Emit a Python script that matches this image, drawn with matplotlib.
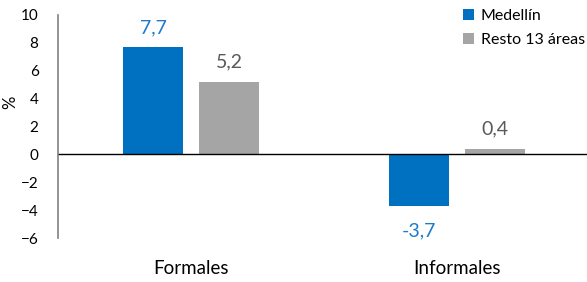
import numpy as np
import matplotlib.pyplot as plt

categories = ["Formales", "Informales"]
series_names = ["Medellín", "Resto 13 áreas"]
medellin = [7.7, -3.7]
resto = [5.2, 0.4]

bar_colors = ["#0070C0", "#A5A5A5"]
label_colors = ["#1F7BC9", "#595959"]

plt.rcParams['font.family'] = ['Lato', 'DejaVu Sans']

fig = plt.figure(figsize=(5.87, 2.82), dpi=100)
ax = fig.add_axes([58 / 587, 1 - 238 / 282, 532 / 587, 223 / 282])

x = np.arange(len(categories))
w = 0.224
off = 0.143

for vals, sign, name, col, lcol in [(medellin, -1, series_names[0], bar_colors[0], label_colors[0]),
                                    (resto, 1, series_names[1], bar_colors[1], label_colors[1])]:
    bars = ax.bar(x + sign * off, vals, w, color=col, label=name)
    for b, v in zip(bars, vals):
        txt = f"{v:.1f}".replace(".", ",")
        if v >= 0:
            ax.annotate(txt, (b.get_x() + b.get_width() / 2, v), xytext=(0, 8),
                        textcoords="offset points", ha="center", va="bottom",
                        color=lcol, fontsize=14)
        else:
            ax.annotate(txt, (b.get_x() + b.get_width() / 2, v), xytext=(0, -12),
                        textcoords="offset points", ha="center", va="top",
                        color=lcol, fontsize=14)

ax.axhline(0, color="black", linewidth=1)
ax.set_xlim(-0.5, 1.5)
ax.set_ylim(-6, 10)
ax.set_yticks(range(-6, 11, 2))
ax.set_xticks(x)
ax.set_xticklabels(categories, fontsize=13.5)
ax.tick_params(axis="x", length=0, pad=16)
ax.tick_params(axis="y", length=0, labelsize=11, pad=14)
for s in ["top", "right", "bottom"]:
    ax.spines[s].set_visible(False)
ax.spines["left"].set_color("#808080")
ax.spines["left"].set_linewidth(1.2)
ax.set_ylabel("%", fontsize=12)
ax.yaxis.set_label_coords(-0.075, 0.61)

ax.legend(loc="upper left", bbox_to_anchor=(463 / 587, 1 - 9 / 282), bbox_transform=fig.transFigure,
          frameon=False, fontsize=11.5, handlelength=0.7, handleheight=0.7,
          handletextpad=0.4, labelspacing=0.6, borderpad=0, borderaxespad=0)

fig.savefig("out.png", dpi=100)
